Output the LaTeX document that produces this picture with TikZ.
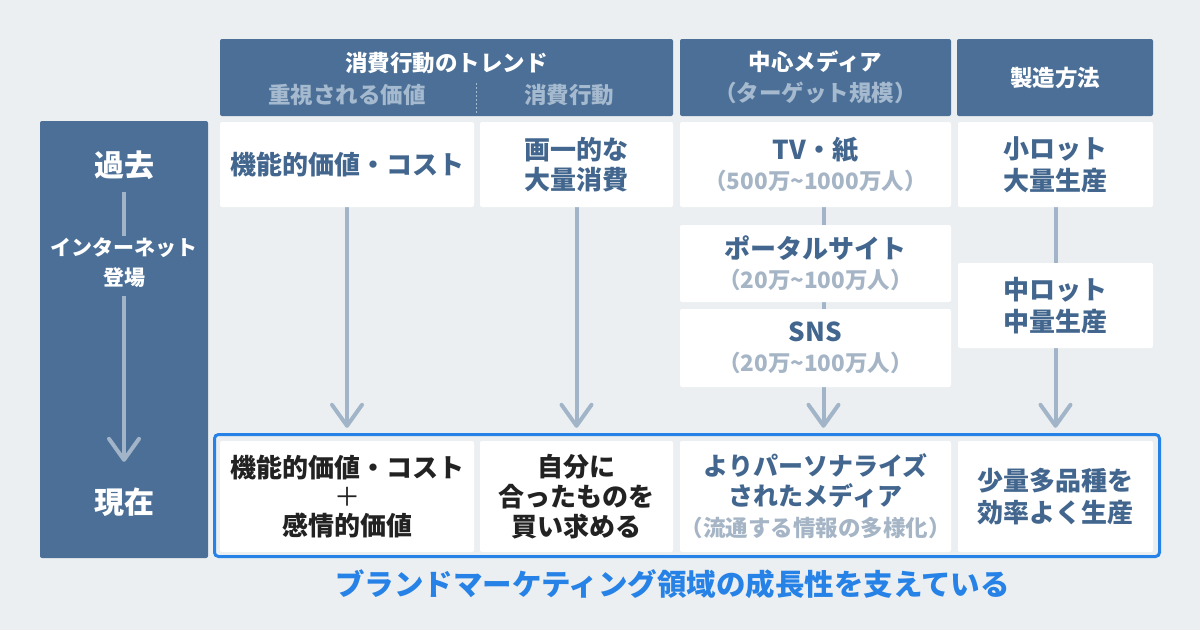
\documentclass[tikz,border=0pt]{standalone}
\usepackage{fontspec}
\setmainfont{Noto Sans CJK JP}
\usetikzlibrary{arrows.meta}
\definecolor{bgc}{RGB}{236,239,241}
\definecolor{hdr}{RGB}{75,111,150}
\definecolor{txtb}{RGB}{66,102,142}
\definecolor{subc}{RGB}{165,181,198}
\definecolor{hsub}{RGB}{165,185,207}
\definecolor{arrc}{RGB}{162,181,200}
\definecolor{bluef}{RGB}{38,130,230}
\definecolor{blk}{RGB}{34,34,34}
\pgfdeclarelayer{back}
\pgfdeclarelayer{lines}
\pgfsetlayers{back,lines,main}
\newcommand\myfs{\fontsize{22.5}{30}\selectfont\bfseries\color{subc}}
\begin{document}
\begin{tikzpicture}[x=1pt,y=-1pt,
  hbox/.style={fill=hdr, rounded corners=2pt, inner sep=0pt, align=center, text=white, font=\fontsize{22.5}{31}\selectfont\bfseries},
  wbox/.style={fill=white, rounded corners=2pt, inner sep=0pt, align=center, text=txtb, font=\fontsize{26}{30}\selectfont\bfseries},
  wideC/.style={minimum width=271pt},
  wideA/.style={minimum width=254pt},
  wideB/.style={minimum width=193pt},
  wideD/.style={minimum width=195pt},
  ltxt/.style={inner sep=0pt, text=white, align=center},
  varr/.style={draw=arrc, line width=4pt, -{Straight Barb[length=21pt,width=30pt,round]}},
  vline/.style={draw=arrc, line width=4pt},
]
\begin{pgfonlayer}{back}
\fill[bgc] (0,0) rectangle (1200,630);
\end{pgfonlayer}
\useasboundingbox (0,0) rectangle (1200,630);

% headers
\node[hbox, minimum width=453pt, minimum height=77pt] (hA) at (446.5,77.5) {};
\node[ltxt, font=\fontsize{22.5}{31}\selectfont\bfseries] (hAt) at (446.5,63) {消費行動のトレンド};
\node[ltxt, text=hsub, font=\fontsize{22.5}{31}\selectfont\bfseries] (hAs1) at (347,95) {重視される価値};
\node[ltxt, text=hsub, font=\fontsize{22.5}{31}\selectfont\bfseries] (hAs2) at (569,95) {消費行動};
\draw[hsub, line width=1.2pt, dash pattern=on 2pt off 2pt] (476.5,83) -- (476.5,113);
\node[hbox, wideC, minimum height=77pt] (hC) at (815.5,77.5) {中心メディア\\{\color{hsub}（ターゲット規模）}};
\node[hbox, minimum width=196pt, minimum height=77pt] (hD) at (1055,77.5) {製造方法};

% left column
\node[fill=hdr, rounded corners=2pt, minimum width=168pt, minimum height=437pt, inner sep=0pt] (lcol) at (124,339.5) {};
\node[ltxt, font=\fontsize{30}{36}\selectfont\bfseries, text height=25pt, text depth=3pt] (past) at (124,165) {過去};
\node[ltxt, font=\fontsize{21}{30}\selectfont\bfseries] (net) at (124,263) {インターネット\\登場};
\node[ltxt, font=\fontsize{30}{36}\selectfont\bfseries, text height=25pt, text depth=3pt] (now) at (124,502) {現在};
\draw[vline, shorten <=13pt, shorten >=2pt] (past) -- (net);
\draw[varr, shorten <=8pt, shorten >=26pt] (net) -- (now);

% row 1
\node[wbox, wideA, minimum height=85pt] (a1) at (347,164.5) {機能的価値・コスト};
\node[wbox, wideB, minimum height=85pt] (b1) at (576.5,164.5) {画一的な\\大量消費};
\node[wbox, wideC, minimum height=85pt] (c1) at (815.5,164.5) {TV・紙\\{\myfs （500万\textasciitilde 1000万人）}};
\node[wbox, wideD, minimum height=85pt, font=\fontsize{26}{32}\selectfont\bfseries] (d1) at (1055.5,164.5) {小ロット\\大量生産};

% middle
\node[wbox, wideC, minimum height=77pt] (c2) at (815.5,263.5) {ポータルサイト\\{\myfs （20万\textasciitilde 100万人）}};
\node[wbox, wideC, minimum height=78pt] (c3) at (815.5,348) {SNS\\{\myfs （20万\textasciitilde 100万人）}};
\node[wbox, wideD, minimum height=85pt, font=\fontsize{26}{32}\selectfont\bfseries] (d2) at (1055.5,305.5) {中ロット\\中量生産};

% frame and bottom row
\node[draw=bluef, line width=3pt, rounded corners=4pt, minimum width=945pt, minimum height=122pt, inner sep=0pt] (frame) at (687,495.5) {};
\node[wbox, wideA, minimum height=111pt, text=blk, font=\fontsize{26}{29}\selectfont\bfseries] (a4) at (347,496.5) {機能的価値・コスト\\{\mdseries ＋}\\感情的価値};
\node[wbox, wideB, minimum height=111pt, text=blk] (b4) at (576.5,496.5) {自分に\\合ったものを\\買い求める};
\node[wbox, wideC, minimum height=111pt, font=\fontsize{25}{30}\selectfont\bfseries] (c4) at (815.5,496.5) {よりパーソナライズ\\されたメディア\\[1pt]{\myfs （流通する情報の多様化）}};
\node[wbox, wideD, minimum height=111pt, font=\fontsize{26}{32}\selectfont\bfseries] (d4) at (1055.5,496.5) {少量多品種を\\効率よく生産};

\node[inner sep=0pt, text=bluef, font=\fontsize{29.5}{34}\selectfont\bfseries] (concl) at (672.5,584) {ブランドマーケティング領域の成長性を支えている};

% vertical arrows
\begin{pgfonlayer}{lines}
\draw[varr, shorten >=13pt] (a1) -- (a4);
\draw[varr, shorten >=13pt] (b1) -- (b4);
\draw[varr, shorten >=13pt] ([xshift=8pt]c1.south) -- ([xshift=8pt]c4.north);
\draw[varr, shorten >=13pt] (d1) -- (d4);
\end{pgfonlayer}
\end{tikzpicture}
\end{document}
